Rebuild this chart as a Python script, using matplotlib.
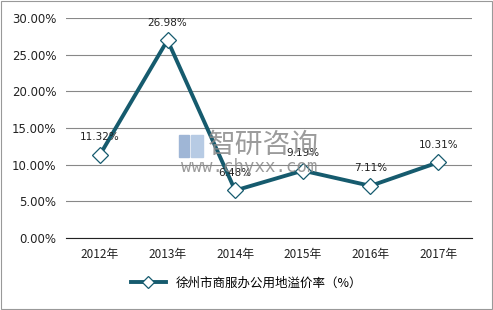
import matplotlib
matplotlib.use("Agg")
import matplotlib.pyplot as plt
from matplotlib.ticker import FuncFormatter

plt.rcParams['font.family'] = ['Noto Sans CJK SC', 'DejaVu Sans']

years = ['2012年', '2013年', '2014年', '2015年', '2016年', '2017年']
values = [11.32, 26.98, 6.48, 9.19, 7.11, 10.31]
labels = ['11.32%', '26.98%', '6.48%', '9.19%', '7.11%', '10.31%']
series_name = '徐州市商服办公用地溢价率（%）'

color = '#165b6e'

W, H = 493, 310
fig = plt.figure(figsize=(W / 100, H / 100), dpi=100)
fig.patch.set_facecolor('white')
ax = fig.add_axes([66 / W, 1 - 238 / H, 406 / W, 220 / H])

# watermark (behind data)
fig.text(263 / W, 1 - 145 / H, '智研咨询', fontsize=20, color='#8a8a8a', alpha=0.85,
         ha='center', va='center', zorder=0)
fig.text(249 / W, 1 - 167 / H, 'www.chyxx.com', fontsize=12.5, color='#8a8a8a',
         alpha=0.85, ha='center', va='center', family=['DejaVu Sans Mono'], zorder=0)
fig.patches.append(plt.Rectangle((179 / W, 1 - 157 / H), 10 / W, 22 / H,
                                 transform=fig.transFigure, color='#9fb6d6', zorder=0))
fig.patches.append(plt.Rectangle((191 / W, 1 - 157 / H), 12 / W, 22 / H,
                                 transform=fig.transFigure, color='#b7cbe4', zorder=0))
ax.patch.set_alpha(0)

x = list(range(len(years)))
ax.plot(x, values, color=color, lw=2.8, marker='D', markersize=8,
        markerfacecolor='white', markeredgecolor=color, markeredgewidth=0.9,
        label=series_name, zorder=3)
for xi, v, t in zip(x, values, labels):
    ax.annotate(t, (xi, v), xytext=(0, 9), textcoords='offset points',
                ha='center', va='bottom', fontsize=7.5, color='#222222',
                family=['DejaVu Sans'])

ax.set_xlim(-0.5, len(years) - 0.5)
ax.set_ylim(0, 30)
ax.set_yticks([0, 5, 10, 15, 20, 25, 30])
ax.yaxis.set_major_formatter(FuncFormatter(lambda v, p: f'{v:.2f}%'))
ax.set_xticks(x)
ax.set_xticklabels(years)
ax.grid(axis='y', color='#888888', lw=0.8)
ax.set_axisbelow(True)
for s in ['top', 'right', 'left']:
    ax.spines[s].set_visible(False)
ax.spines['bottom'].set_color('#222222')
ax.tick_params(axis='both', length=0, labelsize=8.5, colors='#222222', pad=7)
for lab in ax.get_yticklabels():
    lab.set_family(['DejaVu Sans'])

leg = fig.legend(loc='center', bbox_to_anchor=(0.5, 1 - 283 / H), frameon=False,
                 fontsize=9, handlelength=2.8, markerscale=0.8)

border = plt.Rectangle((0.003, 0.003), 0.994, 0.994, transform=fig.transFigure,
                       fill=False, edgecolor='#999999', lw=0.8)
fig.patches.append(border)

fig.savefig('out.png', dpi=100)
